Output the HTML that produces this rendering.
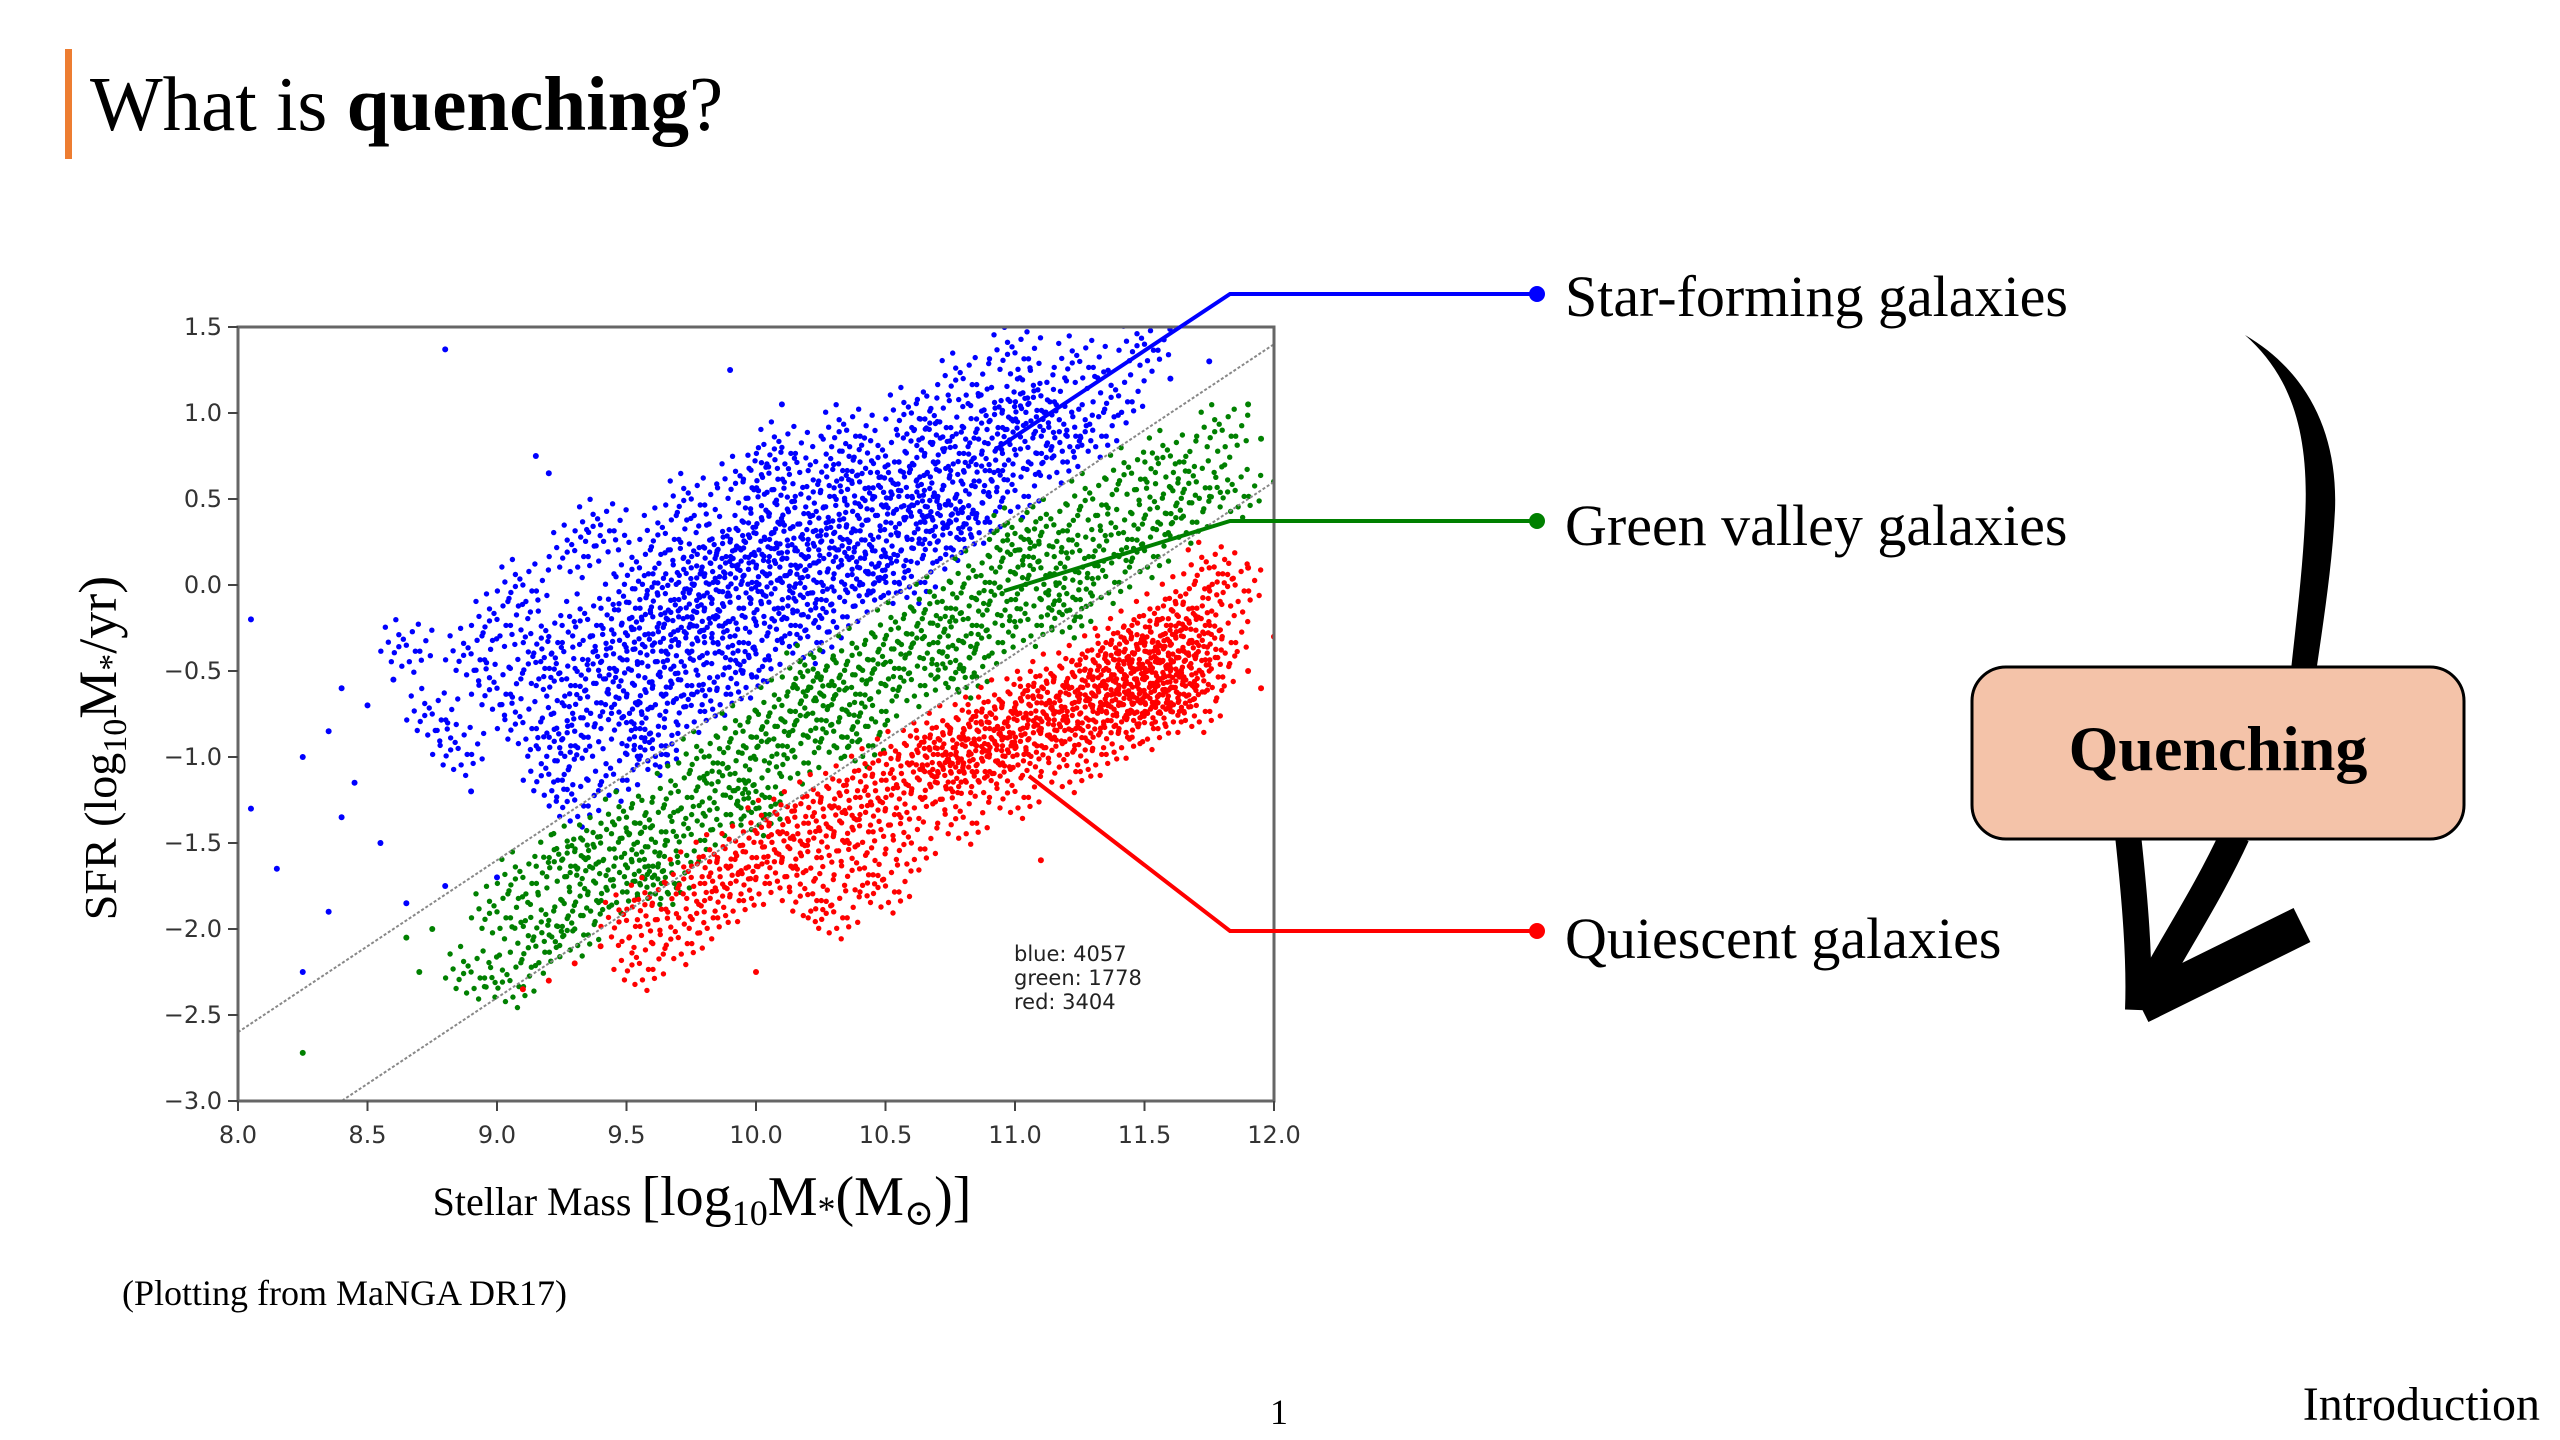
<!DOCTYPE html>
<html><head><meta charset="utf-8"><style>
html,body{margin:0;padding:0;background:#fff;}
svg{display:block;}
</style></head><body>
<svg id="slide" width="2560" height="1440" viewBox="0 0 2560 1440" xmlns="http://www.w3.org/2000/svg">
<rect x="0" y="0" width="2560" height="1440" fill="#fff"/>
<rect x="65" y="49" width="7" height="110" fill="#ed7d31"/>
<text x="90" y="130" font-family="Liberation Serif, serif" font-size="77" fill="#000">What is <tspan font-weight="bold">quenching</tspan>?</text>

<g id="chart"></g>

<text x="122" y="1305" font-family="Liberation Serif, serif" font-size="36" fill="#000">(Plotting from MaNGA DR17)</text>
<text x="1279" y="1424" font-family="Liberation Serif, serif" font-size="36" fill="#000" text-anchor="middle">1</text>
<text x="2540" y="1420" font-family="Liberation Serif, serif" font-size="48" fill="#000" text-anchor="end">Introduction</text>

<g fill="none" stroke-width="4">
<polyline points="996,449 1230,294 1535,294" stroke="#0000ff"/>
<polyline points="1004,591 1230,521 1535,521" stroke="#008000"/>
<polyline points="1029,776 1230,931 1535,931" stroke="#ff0000"/>
</g>
<circle cx="1537" cy="294" r="8" fill="#0000ff"/>
<circle cx="1537" cy="521" r="8" fill="#008000"/>
<circle cx="1537" cy="931" r="8" fill="#ff0000"/>
<text x="1565" y="316" font-family="Liberation Serif, serif" font-size="58">Star-forming galaxies</text>
<text x="1565" y="545" font-family="Liberation Serif, serif" font-size="58">Green valley galaxies</text>
<text x="1565" y="958" font-family="Liberation Serif, serif" font-size="58">Quiescent galaxies</text>

<g>
<path d="M2245,335 C2290,375 2310,430 2305,520 C2302,580 2295,630 2290,680 L2315,680 C2322,630 2332,570 2335,510 C2338,430 2305,370 2245,335 Z" fill="#000"/>
<path d="M2128,835 C2135,900 2140,960 2138,1010" stroke="#000" stroke-width="26" fill="none"/>
<path d="M2235,835 C2205,900 2170,950 2142,1005" stroke="#000" stroke-width="30" fill="none"/>
<path d="M2140,1005 L2302,925" stroke="#000" stroke-width="38" fill="none"/>
</g>
<rect x="1972" y="667" width="492" height="172" rx="34" ry="34" fill="#f4c3a9" stroke="#000" stroke-width="3"/>
<text x="2218" y="770" font-family="Liberation Serif, serif" font-size="64" font-weight="bold" text-anchor="middle">Quenching</text>
</svg>
<script>
const xTicks = [8.0, 8.5, 9.0, 9.5, 10.0, 10.5, 11.0, 11.5, 12.0];
const yTicks = [1.5, 1.0, 0.5, 0.0, -0.5, -1.0, -1.5, -2.0, -2.5, -3.0];
const blueGalaxies = [[8.65,-0.35],[8.75,-0.75],[8.85,-0.95],[8.9,-0.4],[9.0,-0.2],[9.0,-0.6],[9.1,-0.8],[9.1,0.0],[9.2,-0.3],[9.2,-1.1],[9.25,-0.55],[9.3,0.2],[9.3,-0.85],[9.35,-0.2],[9.4,-0.45],[9.4,0.35],[9.45,-1.1],[9.5,-0.1],[9.5,-0.65],[9.55,0.1],[9.6,-0.35],[9.6,-0.9],[9.65,0.3],[9.7,-0.15],[9.7,-0.55],[9.75,0.5],[9.8,0.05],[9.8,-0.3],[9.85,-0.6],[9.9,0.25],[9.9,-0.1],[9.95,0.6],[10.0,-0.4],[10.0,0.1],[10.05,0.4],[10.1,-0.2],[10.1,0.8],[10.15,0.2],[10.2,-0.05],[10.25,0.55],[10.3,-0.15],[10.3,0.3],[10.35,0.9],[10.4,0.1],[10.45,0.5],[10.5,0.05],[10.5,0.75],[10.55,0.3],[10.6,1.0],[10.6,0.05],[10.65,0.55],[10.7,0.25],[10.75,0.8],[10.8,1.2],[10.8,0.45],[10.85,0.4],[10.9,0.7],[10.95,1.0],[11.0,0.55],[11.0,1.35],[11.05,0.8],[11.1,1.1],[11.15,0.75],[11.2,0.9],[11.25,1.3],[11.3,0.9],[11.4,1.1],[11.5,1.4],[9.6,-0.95],[9.3,-1.25],[10.4,0.0],[10.2,-0.3],[9.95,-0.5],[9.75,-0.7],[9.55,-0.25],[9.65,-0.05],[9.7,-0.35],[9.75,0.1],[9.8,-0.15],[9.85,0.2],[9.9,-0.3],[9.95,0.05],[10.0,0.3],[10.05,-0.1],[10.1,0.15],[10.15,0.45],[10.2,0.05],[10.25,0.25],[10.35,0.35],[10.4,0.6],[10.45,0.2],[10.55,0.55],[10.6,0.4],[10.65,0.75],[10.7,0.5],[10.75,0.3],[10.85,0.7],[10.9,0.95],[9.45,-0.4],[9.5,-0.8],[9.35,-0.65],[9.6,-0.6],[9.15,-0.45],[9.25,-0.9],[10.05,0.65],[10.3,0.7],[10.7,0.95],[11.05,1.05]];
const blueOutliers = [[8.05,-1.3],[8.05,-0.2],[8.15,-1.65],[8.25,-1.0],[8.25,-2.25],[8.35,-0.85],[8.35,-1.9],[8.4,-0.6],[8.4,-1.35],[8.45,-1.15],[8.5,-0.7],[8.6,-0.55],[8.8,1.37],[9.15,0.75],[9.2,0.65],[9.9,1.25],[10.1,1.05],[9.0,-1.7],[8.8,-1.75],[8.55,-1.5],[8.65,-1.85],[8.9,-1.2],[11.6,1.2],[11.75,1.3]];
const greenGalaxies = [[8.9,-2.25],[9.0,-1.9],[9.05,-2.3],[9.1,-1.7],[9.15,-2.1],[9.2,-1.95],[9.25,-1.6],[9.3,-2.0],[9.35,-1.8],[9.4,-1.5],[9.45,-1.75],[9.5,-1.35],[9.55,-1.6],[9.6,-1.4],[9.65,-1.7],[9.7,-1.2],[9.75,-1.45],[9.8,-1.0],[9.85,-1.3],[9.9,-1.1],[9.95,-0.85],[10.0,-1.2],[10.05,-0.9],[10.1,-0.7],[10.15,-1.0],[10.2,-0.75],[10.25,-0.55],[10.3,-0.85],[10.35,-0.6],[10.4,-0.4],[10.45,-0.7],[10.5,-0.45],[10.55,-0.25],[10.6,-0.55],[10.65,-0.3],[10.7,-0.1],[10.75,-0.45],[10.8,-0.2],[10.85,0.05],[10.9,-0.3],[10.95,-0.05],[11.0,0.2],[11.05,-0.2],[11.1,0.1],[11.15,0.35],[11.2,-0.05],[11.25,0.2],[11.3,0.5],[11.35,0.05],[11.4,0.3],[11.45,0.65],[11.5,0.2],[11.55,0.45],[11.6,0.75],[11.65,0.4],[11.7,0.6],[11.8,0.9],[11.85,0.55],[9.6,-1.7],[10.0,-1.3],[10.4,-0.9],[10.8,-0.5],[11.2,-0.15],[9.3,-1.55],[10.2,-0.5],[11.0,0.3]];
const greenOutliers = [[8.25,-2.72],[8.65,-2.05],[8.75,-2.0],[8.7,-2.25],[11.95,0.85],[12.0,0.6],[11.9,1.05]];
const redGalaxies = [[9.5,-1.95],[9.55,-2.2],[9.6,-1.85],[9.7,-2.05],[9.75,-1.7],[9.8,-1.9],[9.85,-1.6],[9.9,-1.8],[9.95,-1.55],[10.0,-1.7],[10.05,-1.4],[10.1,-1.6],[10.15,-1.35],[10.2,-1.55],[10.25,-1.25],[10.3,-1.45],[10.35,-1.2],[10.4,-1.4],[10.45,-1.1],[10.5,-1.3],[10.55,-1.0],[10.6,-1.2],[10.65,-0.95],[10.7,-1.15],[10.75,-0.85],[10.8,-1.05],[10.85,-0.8],[10.9,-1.0],[10.95,-0.7],[11.0,-0.95],[11.05,-0.65],[11.1,-0.85],[11.15,-0.55],[11.2,-0.8],[11.25,-0.5],[11.3,-0.7],[11.35,-0.4],[11.4,-0.6],[11.45,-0.3],[11.5,-0.55],[11.55,-0.2],[11.6,-0.5],[11.65,-0.1],[11.7,-0.4],[11.75,0.1],[11.8,-0.3],[11.85,0.0],[11.5,-0.8],[11.6,-0.7],[11.4,-0.85],[11.3,-0.95],[11.55,-0.45],[11.45,-0.65],[11.65,-0.55],[11.7,-0.7],[11.2,-1.05],[11.0,-1.2],[10.8,-1.35],[10.6,-1.5],[10.4,-1.65],[10.2,-1.8],[10.5,-1.75],[10.3,-1.9],[11.35,-0.6],[11.45,-0.45],[11.5,-0.35],[11.55,-0.65],[11.6,-0.35],[11.4,-0.4],[11.3,-0.55],[11.25,-0.75],[11.15,-0.75],[11.1,-0.65],[11.05,-0.9],[10.95,-0.9],[10.9,-0.8],[10.85,-1.05],[10.75,-1.05],[10.7,-0.95],[11.65,-0.3],[11.75,-0.5],[11.7,-0.2],[11.5,-0.65],[11.4,-0.7],[11.6,-0.6]];
const redOutliers = [[9.1,-2.35],[9.2,-2.3],[9.3,-2.2],[9.4,-2.1],[10.0,-2.25],[11.1,-1.6],[11.9,-0.5],[11.9,0.1],[12.0,-0.3],[11.95,-0.6]];
const divideLines = [[-10.6], [-11.4]];
const countLabels = ["blue: 4057", "green: 1778", "red: 3404"];

const NS = "http://www.w3.org/2000/svg";
const X0 = 238, X1 = 1274, Y0 = 327, Y1 = 1101;
const xMin = 8, xMax = 12, yMin = -3, yMax = 1.5;
function sx(v){ return X0 + (v - xMin) / (xMax - xMin) * (X1 - X0); }
function sy(v){ return Y1 - (v - yMin) / (yMax - yMin) * (Y1 - Y0); }
function mk(tag, attrs, parent){ const e = document.createElementNS(NS, tag); for (const k in attrs) e.setAttribute(k, attrs[k]); parent.appendChild(e); return e; }
const chart = document.getElementById('chart');

const clip = mk('clipPath', {id:'plotclip'}, chart);
mk('rect', {x:X0, y:Y0, width:X1-X0, height:Y1-Y0}, clip);

const marker = [[0,0],[9,4],[-8,5],[4,-9],[-5,-7],[13,-3],[-12,-2],[2,11],[-3,14],[10,10],[-10,11],[8,-14],[-14,-12],[16,7],[-17,4],[5,18],[-7,-17],[17,-10],[-2,-4],[6,4],[-5,1]];

const pts = mk('g', {'clip-path':'url(#plotclip)'}, chart);


function drawSeries(data, outliers, color, name){
  const g = mk('g', {fill: color}, pts);
  
  
  data.forEach(function(d){
    const cx = sx(d[0]), cy = sy(d[1]);
    marker.forEach(function(o){ mk('circle', {cx: cx + o[0]*1.5, cy: cy + o[1]*1.5, r: 2.7}, g); });
  });
  outliers.forEach(function(d){
    const c = mk('circle', {cx: sx(d[0]), cy: sy(d[1]), r: 3}, g);
    
    
  });
}
drawSeries(blueGalaxies, blueOutliers, '#0000ff', 'star-forming-points');
drawSeries(greenGalaxies, greenOutliers, '#008000', 'green-valley-points');
drawSeries(redGalaxies, redOutliers, '#ff0000', 'quiescent-points');

divideLines.forEach(function(b, i){
  const l = mk('line', {x1: sx(xMin), y1: sy(xMin + b[0]), x2: sx(xMax), y2: sy(xMax + b[0]), stroke:'#888', 'stroke-width':2, 'stroke-dasharray':'3,2', 'clip-path':'url(#plotclip)'}, chart);
  
  
});

const frame = mk('rect', {x:X0, y:Y0, width:X1-X0, height:Y1-Y0, fill:'none', stroke:'#666', 'stroke-width':3}, chart);



xTicks.forEach(function(v){
  const x = sx(v);
  mk('line', {x1:x, y1:Y1, x2:x, y2:Y1+10, stroke:'#444', 'stroke-width':2}, chart);
  const t = mk('text', {x:x, y:Y1+42, 'text-anchor':'middle', 'font-family':'DejaVu Sans, sans-serif', 'font-size':24, fill:'#333'}, chart);
  t.textContent = v.toFixed(1);
  
  
});
yTicks.forEach(function(v){
  const y = sy(v);
  mk('line', {x1:X0-10, y1:y, x2:X0, y2:y, stroke:'#444', 'stroke-width':2}, chart);
  const t = mk('text', {x:X0-16, y:y+8, 'text-anchor':'end', 'font-family':'DejaVu Sans, sans-serif', 'font-size':24, fill:'#333'}, chart);
  t.textContent = (v < 0 ? '\u2212' + Math.abs(v).toFixed(1) : v.toFixed(1));
  
  
});

countLabels.forEach(function(s, i){
  const t = mk('text', {x:1014, y:961 + i*24, 'font-family':'DejaVu Sans, sans-serif', 'font-size':21, fill:'#222'}, chart);
  t.textContent = s;
  
  
});

const yl = mk('text', {x:0, y:0, transform:'translate(116,748) rotate(-90)', 'text-anchor':'middle', 'font-family':'Liberation Serif, DejaVu Serif, serif', 'font-size':46, fill:'#000'}, chart);
yl.innerHTML = 'SFR (log<tspan font-size="34" dy="10">10</tspan><tspan font-size="54" dy="-10">M</tspan><tspan font-size="34" dy="6">*</tspan><tspan font-size="54" dy="-6">/yr)</tspan>';



const xl = mk('text', {x:702, y:1215, 'text-anchor':'middle', 'font-family':'Liberation Serif, DejaVu Serif, serif', 'font-size':40, fill:'#000'}, chart);
xl.innerHTML = 'Stellar Mass <tspan font-size="56">[log</tspan><tspan font-size="36" dy="10">10</tspan><tspan font-size="56" dy="-10">M</tspan><tspan font-size="36" dy="6">*</tspan><tspan font-size="56" dy="-6">(M</tspan><tspan font-size="36" dy="10">\u2299</tspan><tspan font-size="56" dy="-10">)]</tspan>';


</script>
</body></html>
